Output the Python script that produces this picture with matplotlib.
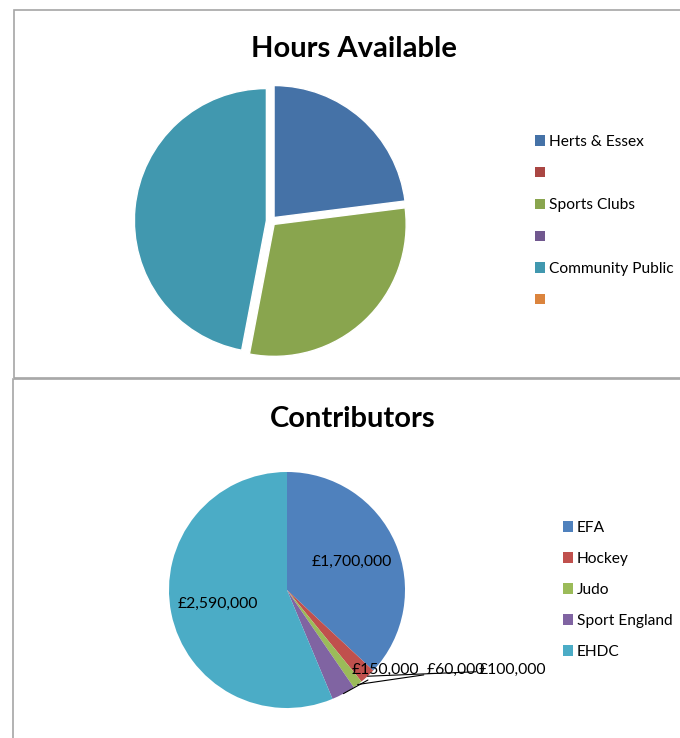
import matplotlib

matplotlib.use("Agg")
import matplotlib.pyplot as plt
from matplotlib.patches import Patch, Rectangle
import numpy as np

W, H = 680, 738

HOURS_TITLE = "Hours Available"
HOURS_LABELS = ["Herts & Essex", "", "Sports Clubs", "", "Community Public", ""]
HOURS_VALUES = [23, 0, 30, 0, 47, 0]
HOURS_COLORS = ["#4572A7", "#AA4643", "#89A54E", "#71588F", "#4198AF", "#DB843D"]

CONTRIB_TITLE = "Contributors"
CONTRIB_LABELS = ["EFA", "Hockey", "Judo", "Sport England", "EHDC"]
CONTRIB_VALUES = [1700000, 100000, 60000, 150000, 2590000]
CONTRIB_COLORS = ["#4F81BD", "#C0504D", "#9BBB59", "#8064A2", "#4BACC6"]

FONT = ["Lato", "DejaVu Sans"]


def fx(x):
    return x / W


def fy(y):
    return 1 - y / H


def pie_axes(fig, cx, cy, r, lim):
    half = r * lim
    ax = fig.add_axes([fx(cx - half), fy(cy + half), 2 * half / W, 2 * half / H])
    return ax


def chart_box(fig, x0, y0, x1, y1):
    fig.patches.append(
        Rectangle((fx(x0), fy(y1)), fx(x1) - fx(x0), fy(y0) - fy(y1),
                  transform=fig.transFigure, fill=False, edgecolor="#a6a6a6", linewidth=1.2)
    )


def legend(ax, fig, labels, colors, x, y, spacing):
    handles = [Patch(facecolor=c, edgecolor="none") for c in colors]
    ax.legend(handles, labels, loc="upper left", bbox_to_anchor=(fx(x), fy(y)),
              bbox_transform=fig.transFigure, frameon=False, borderpad=0, borderaxespad=0,
              handlelength=0.65, handleheight=0.65, handletextpad=0.25, labelspacing=spacing,
              prop={"family": FONT, "size": 11.2})


plt.rcParams["font.family"] = FONT
fig = plt.figure(figsize=(W / 100, H / 100), dpi=100)

chart_box(fig, 14, 10, 700, 378)
chart_box(fig, 13, 379, 700, 760)

# top: hours available
lim = 1.3
ax1 = pie_axes(fig, 271, 221, 132, lim)
keep = [i for i, v in enumerate(HOURS_VALUES) if v > 0]
ax1.pie([HOURS_VALUES[i] for i in keep], colors=[HOURS_COLORS[i] for i in keep],
        startangle=90, counterclock=False, explode=[0.035] * len(keep),
        wedgeprops={"edgecolor": "white", "linewidth": 1.0})
ax1.set_xlim(-lim, lim)
ax1.set_ylim(-lim, lim)
fig.text(fx(354), fy(49), HOURS_TITLE, ha="center", va="center", fontsize=21, fontweight="bold")
legend(ax1, fig, HOURS_LABELS, HOURS_COLORS, 535, 135, 1.14)

# bottom: contributors
ax2 = pie_axes(fig, 287, 590, 118, lim)
total = sum(CONTRIB_VALUES)
wedges, _ = ax2.pie(CONTRIB_VALUES, colors=CONTRIB_COLORS, startangle=90, counterclock=False,
                    wedgeprops={"linewidth": 0})
ax2.set_xlim(-lim, lim)
ax2.set_ylim(-lim, lim)

small_pos = {"Hockey": (1.91, -0.68), "Judo": (1.43, -0.68), "Sport England": (0.835, -0.68)}
for w, lab, val in zip(wedges, CONTRIB_LABELS, CONTRIB_VALUES):
    mid = np.deg2rad((w.theta1 + w.theta2) / 2)
    text = f"£{val:,}"
    if val / total > 0.1:
        ax2.text(0.6 * np.cos(mid), 0.6 * np.sin(mid), text, ha="center", va="center", fontsize=11.3)
    else:
        tx, ty = small_pos[lab]
        ax2.annotate(text, xy=(1.0 * np.cos(mid), 1.0 * np.sin(mid)), xytext=(tx, ty),
                     ha="center", va="center", fontsize=11.3, annotation_clip=False,
                     arrowprops={"arrowstyle": "-", "color": "black", "lw": 0.8,
                                 "shrinkA": 0, "shrinkB": 0})

fig.text(fx(353), fy(419), CONTRIB_TITLE, ha="center", va="center", fontsize=21, fontweight="bold")
legend(ax2, fig, CONTRIB_LABELS, CONTRIB_COLORS, 563, 521, 1.09)

fig.savefig("out.png", dpi=100)
